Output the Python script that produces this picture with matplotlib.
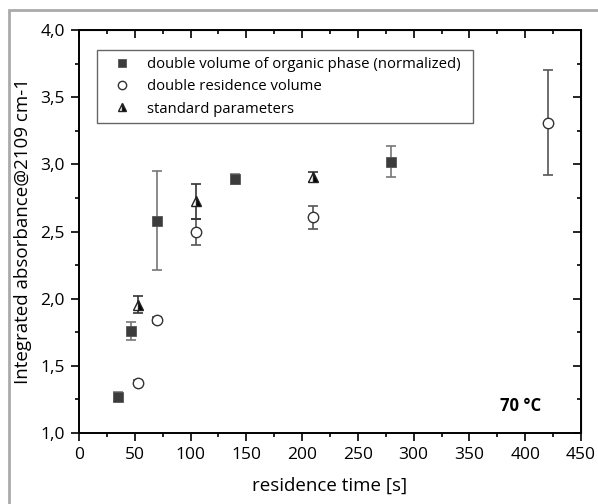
import numpy as np
import matplotlib.pyplot as plt
from matplotlib.patches import Rectangle
from matplotlib.ticker import MultipleLocator, FuncFormatter

# --- Data ---
sq_x = [35, 47, 70, 140, 280]
sq_y = [1.27, 1.76, 2.58, 2.89, 3.02]
sq_err = [0.035, 0.07, 0.37, 0.04, 0.115]

ci_x = [52.5, 70, 105, 210, 420]
ci_y = [1.375, 1.84, 2.495, 2.605, 3.31]
ci_err = [0.02, 0.02, 0.095, 0.088, 0.39]

tr_x = [52.5, 105, 210]
tr_y = [1.955, 2.725, 2.905]
tr_err = [0.062, 0.13, 0.04]

labels = ['double volume of organic phase (normalized)',
          'double residence volume',
          'standard parameters']

plt.rcParams['font.family'] = ['Open Sans', 'DejaVu Sans']

fig = plt.figure(figsize=(5.98, 5.04), dpi=100)
ax = fig.add_axes([79 / 598, 1 - 433 / 504, 502 / 598, 403 / 504])

# light grey frame around the figure
fig.patches.append(Rectangle((9 / 598, -0.05), 1.2, 1 - 10 / 504 + 0.05,
                             transform=fig.transFigure, fill=False,
                             edgecolor='#aaaaaa', linewidth=2.0))

# error bars first, markers on top
eb = dict(fmt='none', elinewidth=1.2, capsize=3.5, capthick=1.2, zorder=2)
ax.errorbar(sq_x, sq_y, yerr=sq_err, ecolor='#777777', **eb)
ax.errorbar(ci_x, ci_y, yerr=ci_err, ecolor='#555555', **eb)
ax.errorbar(tr_x, tr_y, yerr=tr_err, ecolor='#333333', **eb)

ax.plot(sq_x, sq_y, 's', color='#3c3c3c', ms=7, mec='#555555', mew=0.6,
        ls='none', label=labels[0], zorder=3)
ax.plot(ci_x, ci_y, 'o', mfc='white', mec='#333333', mew=1.0, ms=7.5,
        ls='none', label=labels[1], zorder=3)
ax.plot(tr_x, tr_y, '^', fillstyle='right', mfc='black', mfcalt='white',
        mec='#222222', mew=1.0, ms=7.5, ls='none', label=labels[2], zorder=3)

ax.set_xlim(0, 450)
ax.set_ylim(1.0, 4.0)
ax.xaxis.set_major_locator(MultipleLocator(50))
ax.xaxis.set_minor_locator(MultipleLocator(25))
ax.yaxis.set_major_locator(MultipleLocator(0.5))
ax.yaxis.set_minor_locator(MultipleLocator(0.25))
ax.yaxis.set_major_formatter(FuncFormatter(lambda v, p: f'{v:.1f}'.replace('.', ',')))

ax.tick_params(which='both', direction='out', labelsize=12.5, width=1.2,
               colors='black', pad=4)
ax.tick_params(which='major', length=6)
ax.tick_params(which='minor', length=3)
for s in ax.spines.values():
    s.set_linewidth(1.4)

# mirrored ticks pointing inward on top and right
top = ax.secondary_xaxis('top')
top.xaxis.set_major_locator(MultipleLocator(50))
top.xaxis.set_minor_locator(MultipleLocator(25))
top.tick_params(which='both', direction='in', labeltop=False, width=1.2)
top.tick_params(which='major', length=6)
top.tick_params(which='minor', length=3)
right = ax.secondary_yaxis('right')
right.yaxis.set_major_locator(MultipleLocator(0.5))
right.yaxis.set_minor_locator(MultipleLocator(0.25))
right.tick_params(which='both', direction='in', labelright=False, width=1.2)
right.tick_params(which='major', length=6)
right.tick_params(which='minor', length=3)

ax.set_xlabel('residence time [s]', fontsize=13.5, labelpad=10)
ax.set_ylabel('Integrated absorbance@2109 cm-1', fontsize=13.5, labelpad=6)

ax.text(0.880, 0.067, '70 °C', transform=ax.transAxes, fontsize=12,
        fontweight='bold', ha='center', va='center')

leg = ax.legend(loc='upper left', bbox_to_anchor=(0.036, 0.950, 0.749, 0.0),
                mode='expand', borderaxespad=0, fontsize=10.7,
                frameon=True, fancybox=False, edgecolor='#666666',
                framealpha=1, handletextpad=0.45, borderpad=0.45,
                labelspacing=0.5, handlelength=2.45, markerscale=0.8)
leg.get_frame().set_linewidth(1.0)

fig.savefig('out.png', dpi=100)
